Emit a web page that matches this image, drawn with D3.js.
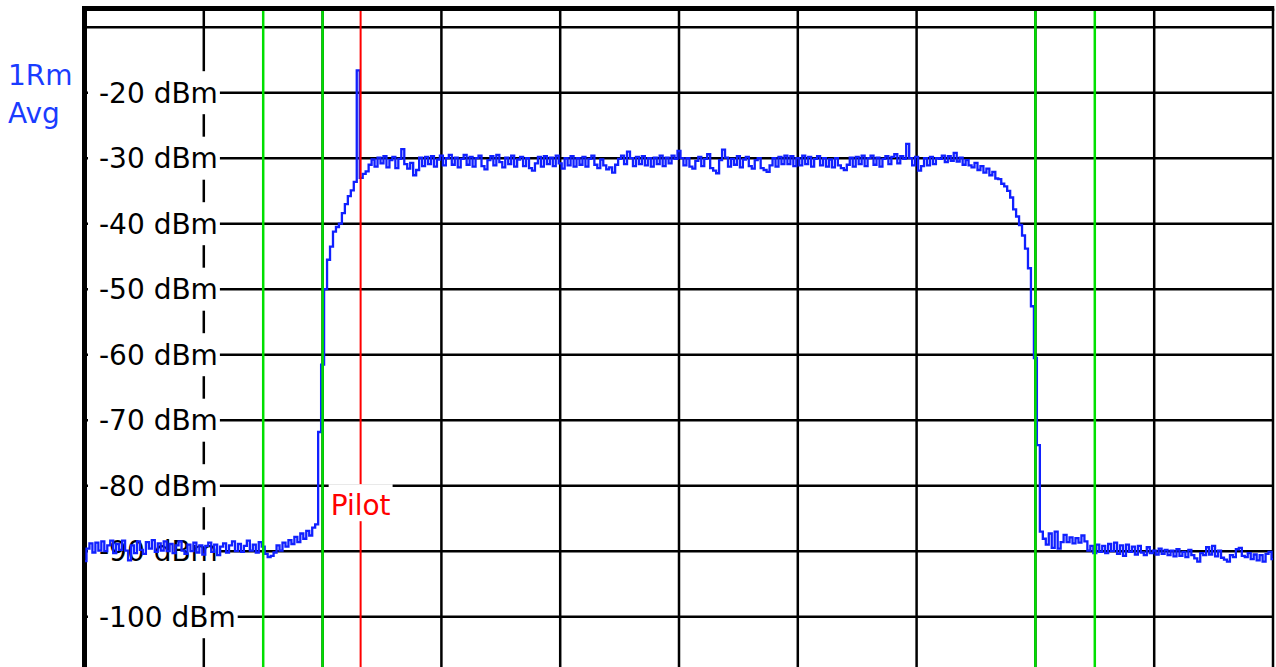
<!DOCTYPE html>
<html>
<head>
<meta charset="utf-8">
<script src="https://cdn.jsdelivr.net/npm/d3@7/dist/d3.min.js"></script>
<style>
  html, body { margin: 0; padding: 0; background: #fff; overflow: hidden; }
  #spectrumContainer { width: 1276px; height: 667px; }
  text { font-family: "DejaVu Sans", Verdana, sans-serif; }
</style>
</head>
<body>
<div id="spectrumContainer"></div>
<script>
// Sweep grid (MHz relative to centre)
const startMHz = -5;
const stepMHz = 0.025;

// Trace levels (dBm)
const lowerNoiseDbm = [
  -91.5, -89.6, -88.8, -90.2, -88.7, -89.9, -88.5, -90.0, -89.1, -88.4,
  -90.3, -88.9, -89.8, -88.4, -89.9, -91.4, -89.1, -90.3, -88.5, -89.8,
  -90.4, -88.6, -89.6, -88.3, -90.1, -88.8, -89.9, -88.5, -90.0, -88.9,
  -90.3, -89.1, -88.5, -89.9, -90.4, -89.0, -90.0, -88.7, -90.2, -89.1,
  -90.5, -89.2, -88.7, -90.1, -89.0, -90.6, -89.3, -88.8, -90.2, -89.1,
  -88.5, -90.0, -88.9, -90.1, -89.2, -88.4, -89.9, -89.0, -90.2, -88.6,
  -89.3, -90.4, -90.9, -90.7, -90.2, -89.1, -89.9, -88.7, -89.3, -88.3,
  -88.9, -87.8, -88.6, -87.3, -88.1, -86.9, -87.6, -86.4, -85.9, -71.8
];

const channelDbm = [
  -61.5, -50.0, -45.5, -43.5, -41.2, -40.5, -40.0, -38.4, -37.0, -35.8,
  -34.9, -33.6, -16.6, -33.0, -32.4, -32.0, -31.0,
  -30.2, -31.3, -29.9, -30.8, -29.7, -31.4, -30.3, -29.8, -31.5, -30.1,
  -28.6, -30.9, -31.6, -30.7, -32.6, -31.8, -29.9, -31.2, -29.8, -30.9,
  -29.7, -31.3, -30.2, -29.6, -31.1, -30.0, -29.5, -31.0, -29.9, -31.4,
  -30.1, -29.5, -31.0, -29.8, -31.3, -30.0, -29.6, -31.2, -31.7, -30.3,
  -29.7, -31.1, -29.5, -30.6, -31.4, -29.9, -30.9, -29.6, -31.3, -30.2,
  -29.8, -31.2, -30.0, -31.5, -31.9, -30.8, -29.8, -31.3, -29.7, -30.9,
  -29.9, -31.2, -29.6, -30.8, -31.6, -30.0, -31.1, -29.7, -31.3, -30.0,
  -31.0, -29.8, -31.3, -30.1, -29.6, -31.0, -31.5, -30.2, -31.1, -31.7,
  -31.4, -32.2, -31.0, -30.1, -29.6, -30.9, -29.0, -30.0, -31.2, -29.8,
  -30.9, -29.7, -31.1, -30.0, -31.3, -29.9, -30.9, -29.6, -31.2, -29.9,
  -30.8, -29.6, -30.1, -28.9, -30.0, -31.1, -30.0, -31.3, -31.6, -30.4,
  -29.8, -31.2, -30.1, -29.4, -31.5, -31.9, -32.3, -30.3, -28.7, -29.9,
  -31.3, -30.1, -31.0, -29.7, -31.4, -30.2, -29.8, -31.2, -31.6, -30.3,
  -30.0, -31.5, -31.8, -32.1, -31.1, -30.0, -31.3, -29.8, -30.9, -29.6,
  -30.9, -29.7, -31.2, -30.0, -31.1, -29.6, -30.9, -29.8, -31.3, -30.1,
  -29.7, -31.1, -30.0, -31.3, -30.2, -31.4, -30.0, -31.1, -31.5, -31.8,
  -31.0, -29.9, -31.3, -29.8, -30.9, -29.6, -31.2, -30.0, -29.6, -31.0,
  -29.9, -31.3, -30.1, -29.7, -30.9, -29.8, -29.4, -30.8, -29.7, -30.1,
  -27.8, -30.0, -31.1, -29.8, -31.9, -31.2, -30.0, -31.1, -29.8, -30.9,
  -30.0,
  -30.1, -29.6, -30.6, -29.7, -30.4, -29.2, -30.5, -29.9, -31.0, -30.3,
  -31.1, -31.4, -30.7, -31.8, -31.2, -32.2, -31.6, -32.6, -32.1, -33.1,
  -33.2, -33.9, -34.3, -35.0, -36.0, -37.8, -38.9, -40.2, -41.8, -43.8,
  -46.8, -52.6, -60.5
];

const upperNoiseDbm = [
  -73.8, -87.0, -88.1, -89.0, -87.3, -89.5, -87.0, -89.6, -88.6, -87.5,
  -88.6, -87.9, -88.8, -88.0, -88.7, -87.6, -88.5, -89.9, -89.2, -90.3,
  -89.0, -90.1, -89.2, -90.3, -88.9, -90.0, -88.7, -90.4, -89.1, -90.7,
  -89.0, -90.1, -89.3, -90.5, -89.2, -90.2, -90.6, -89.4, -90.3, -89.9,
  -90.5, -89.6, -90.4, -89.8, -90.6, -89.9, -90.8, -89.7, -90.7, -90.1,
  -90.9, -89.8, -90.6, -91.1, -91.6, -90.3, -90.6, -89.4, -90.5, -89.2,
  -90.8, -89.9, -91.0, -91.3, -91.6, -90.6, -90.9, -89.7, -89.5, -90.7,
  -90.9, -90.3, -91.2, -90.5, -91.4, -90.6, -91.6, -90.4, -90.1, -91.2
];

// Axes / markers
const freqGridMHz = [-5, -4, -3, -2, -1, 0, 1, 2, 3, 4, 5];
const levelGridDbm = [-10, -20, -30, -40, -50, -60, -70, -80, -90, -100];
const levelLabelsDbm = [-20, -30, -40, -50, -60, -70, -80, -90, -100];
const channelLinesMHz = [-3.5, -3, 3, 3.5];
const pilotMHz = -2.68;
const pilotLabelDbm = -84.5;
const traceInfo = ['1Rm', 'Avg'];

(function() {
  const container = d3.select('#spectrumContainer');
  container.selectAll('*').remove();

  const width = 1276;
  const height = 667;
  const frameTop = 8.5;

  const svg = container.append('svg')
    .attr('width', width)
    .attr('height', height)
    .style('display', 'block');

  const xScale = d3.scaleLinear().domain([-5, 5]).range([85, 1273]);
  const yScale = d3.scaleLinear().domain([-20, -100]).range([92.7, 616.7]);

  const trace = lowerNoiseDbm.concat(channelDbm, upperNoiseDbm)
    .map((v, i) => ({ f: startMHz + i * stepMHz, v }));

  // Grid
  const grid = svg.append('g').attr('class', 'grid');

  grid.selectAll('.v-grid')
    .data(freqGridMHz)
    .enter()
    .append('line')
    .attr('class', 'v-grid')
    .attr('x1', d => xScale(d))
    .attr('x2', d => xScale(d))
    .attr('y1', frameTop)
    .attr('y2', height + 5)
    .attr('stroke', '#000')
    .attr('stroke-width', 2.5);

  grid.selectAll('.h-grid')
    .data(levelGridDbm)
    .enter()
    .append('line')
    .attr('class', 'h-grid')
    .attr('x1', xScale(-5))
    .attr('x2', xScale(5))
    .attr('y1', d => yScale(d))
    .attr('y2', d => yScale(d))
    .attr('stroke', '#000')
    .attr('stroke-width', 2.5);

  // Frame (top and left, the rest is cut off)
  svg.append('line')
    .attr('x1', xScale(-5) - 3)
    .attr('x2', xScale(5) + 1.25)
    .attr('y1', frameTop)
    .attr('y2', frameTop)
    .attr('stroke', '#000')
    .attr('stroke-width', 5);
  svg.append('line')
    .attr('x1', xScale(-5) - 0.5)
    .attr('x2', xScale(-5) - 0.5)
    .attr('y1', frameTop - 2.5)
    .attr('y2', height + 5)
    .attr('stroke', '#000')
    .attr('stroke-width', 5);

  // Level labels with white backing
  const labels = svg.append('g').attr('class', 'level-labels');
  levelLabelsDbm.forEach(d => {
    const g = labels.append('g');
    const bg = g.append('rect').attr('fill', '#fff');
    const t = g.append('text')
      .attr('x', 99)
      .attr('y', yScale(d) + 10)
      .attr('font-size', 28)
      .attr('fill', '#000')
      .text(`${d} dBm`);
    const bb = t.node().getBBox();
    bg.attr('x', xScale(-5) + 3)
      .attr('y', yScale(d) - 21.5)
      .attr('width', bb.x + bb.width + 2 - (xScale(-5) + 3))
      .attr('height', 43);
  });

  // Trace
  const line = d3.line()
    .x(d => xScale(d.f))
    .y(d => yScale(d.v))
    .curve(d3.curveStep);

  svg.append('path')
    .datum(trace)
    .attr('fill', 'none')
    .attr('stroke', '#1020ff')
    .attr('stroke-width', 2.3)
    .attr('stroke-linejoin', 'miter')
    .attr('d', line);

  // Channel markers
  svg.selectAll('.channel-line')
    .data(channelLinesMHz)
    .enter()
    .append('line')
    .attr('class', 'channel-line')
    .attr('x1', d => xScale(d))
    .attr('x2', d => xScale(d))
    .attr('y1', frameTop + 2.5)
    .attr('y2', height + 5)
    .attr('stroke', '#00e000')
    .attr('stroke-width', 2.5);

  svg.append('line')
    .attr('x1', xScale(pilotMHz))
    .attr('x2', xScale(pilotMHz))
    .attr('y1', frameTop + 2.5)
    .attr('y2', height + 5)
    .attr('stroke', '#ff0000')
    .attr('stroke-width', 2);

  // Pilot label
  const pg = svg.append('g');
  const pbg = pg.append('rect').attr('fill', '#fff');
  const pt = pg.append('text')
    .attr('x', xScale(pilotMHz))
    .attr('y', yScale(pilotLabelDbm))
    .attr('text-anchor', 'middle')
    .attr('font-size', 28)
    .attr('fill', '#ff0000')
    .text('Pilot');
  const pbb = pt.node().getBBox();
  pbg.attr('x', pbb.x - 2)
    .attr('y', pbb.y - 5)
    .attr('width', pbb.width + 4)
    .attr('height', pbb.height + 4);

  // Trace info
  svg.append('g')
    .selectAll('text')
    .data(traceInfo)
    .enter()
    .append('text')
    .attr('x', 8)
    .attr('y', (d, i) => 85 + i * 38)
    .attr('font-size', 28)
    .attr('fill', '#1a3cff')
    .text(d => d);
})();
</script>
</body>
</html>
